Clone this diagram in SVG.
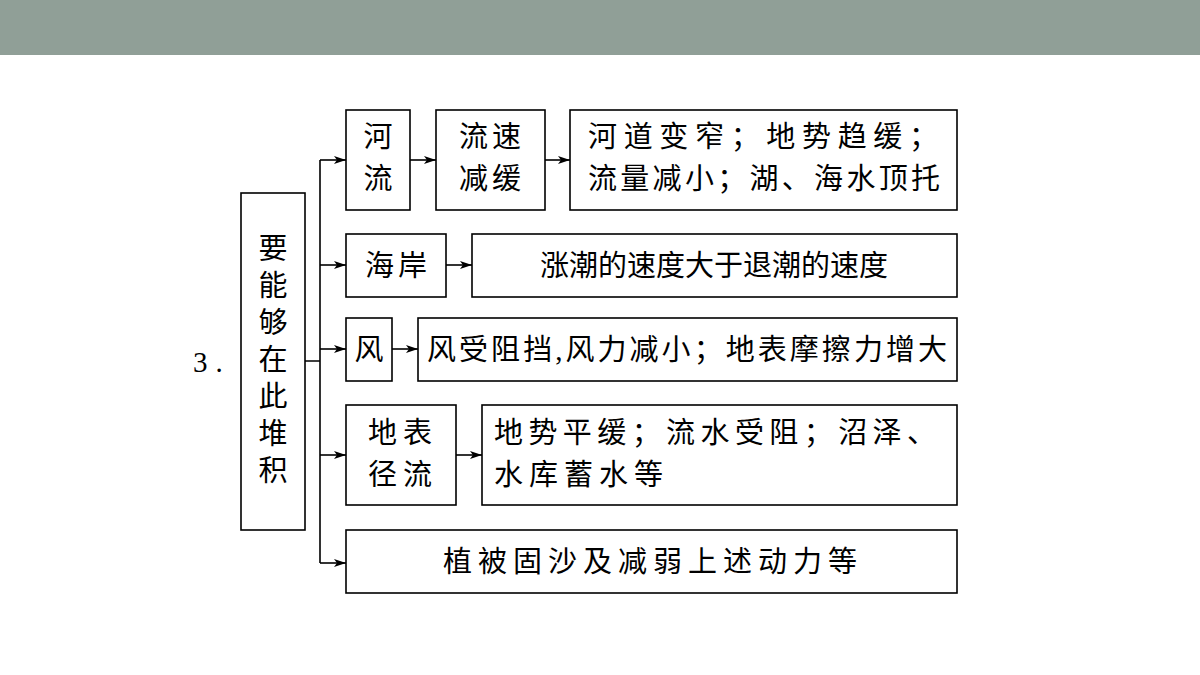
<svg xmlns="http://www.w3.org/2000/svg" width="1200" height="675" viewBox="0 0 1200 675">
<defs>
<marker id="ah" markerWidth="12" markerHeight="8" refX="12" refY="4" orient="auto" markerUnits="userSpaceOnUse"><path d="M0,0 L12,4 L0,8 L3,4 Z" fill="#000"/></marker>
<style>
rect.b{fill:#fff;stroke:#000;stroke-width:1.6}
text{font-family:"Liberation Serif","Noto Sans CJK SC",serif;font-size:29px;fill:#000}
.c{stroke:#000;stroke-width:1.6;fill:none}
.a{marker-end:url(#ah)}
</style>
</defs>
<rect width="1200" height="675" fill="#fff"/>
<rect width="1200" height="55" fill="#909f97"/>
<text x="193" y="372" letter-spacing="8">3.</text>
<g id="root"><rect class="b" x="241" y="193" width="64" height="337"/>
<text x="273" y="259" text-anchor="middle">要</text>
<text x="273" y="296" text-anchor="middle">能</text>
<text x="273" y="333" text-anchor="middle">够</text>
<text x="273" y="370" text-anchor="middle">在</text>
<text x="273" y="407" text-anchor="middle">此</text>
<text x="273" y="444" text-anchor="middle">堆</text>
<text x="273" y="481" text-anchor="middle">积</text></g>
<g id="n1"><rect class="b" x="346" y="110" width="64" height="100"/><text x="378" y="147" text-anchor="middle">河</text><text x="378" y="189" text-anchor="middle">流</text></g>
<g id="n1b"><rect class="b" x="436" y="110" width="109" height="100"/><text x="492" y="147" text-anchor="middle" letter-spacing="4">流速</text><text x="492" y="189" text-anchor="middle" letter-spacing="4">减缓</text></g>
<g id="n1c"><rect class="b" x="570" y="110" width="387" height="100"/><text x="588" y="147" textLength="350">河道变窄；地势趋缓；</text><text x="588" y="189" textLength="352">流量减小；湖、海水顶托</text></g>
<g id="n2"><rect class="b" x="346" y="234" width="100" height="63"/><text x="398" y="276" text-anchor="middle" letter-spacing="4">海岸</text></g>
<g id="n2b"><rect class="b" x="472" y="234" width="485" height="63"/><text x="714" y="276" text-anchor="middle">涨潮的速度大于退潮的速度</text></g>
<g id="n3"><rect class="b" x="346" y="318" width="46" height="63"/><text x="369" y="360" text-anchor="middle">风</text></g>
<g id="n3b"><rect class="b" x="418" y="318" width="539" height="63"/><text x="687" y="360" text-anchor="middle" textLength="520">风受阻挡,风力减小；地表摩擦力增大</text></g>
<g id="n4"><rect class="b" x="346" y="405" width="110" height="100"/><text x="403" y="443" text-anchor="middle" letter-spacing="6">地表</text><text x="403" y="485" text-anchor="middle" letter-spacing="6">径流</text></g>
<g id="n4b"><rect class="b" x="482" y="405" width="475" height="100"/><text x="494" y="443" textLength="442">地势平缓；流水受阻；沼泽、</text><text x="494" y="485" letter-spacing="6">水库蓄水等</text></g>
<g id="n5"><rect class="b" x="346" y="530" width="611" height="63"/><text x="653" y="572" text-anchor="middle" letter-spacing="6">植被固沙及减弱上述动力等</text></g>
<g id="connectors">
<path class="c" d="M305,361 H320 M320,160 V563"/>
<path class="c a" d="M320,160 H346"/>
<path class="c a" d="M320,265 H346"/>
<path class="c a" d="M320,349 H346"/>
<path class="c a" d="M320,455 H346"/>
<path class="c a" d="M320,563 H346"/>
<path class="c a" d="M410,160 H436"/>
<path class="c a" d="M545,160 H570"/>
<path class="c a" d="M446,265 H472"/>
<path class="c a" d="M392,349 H418"/>
<path class="c a" d="M456,455 H482"/>
</g>
</svg>
